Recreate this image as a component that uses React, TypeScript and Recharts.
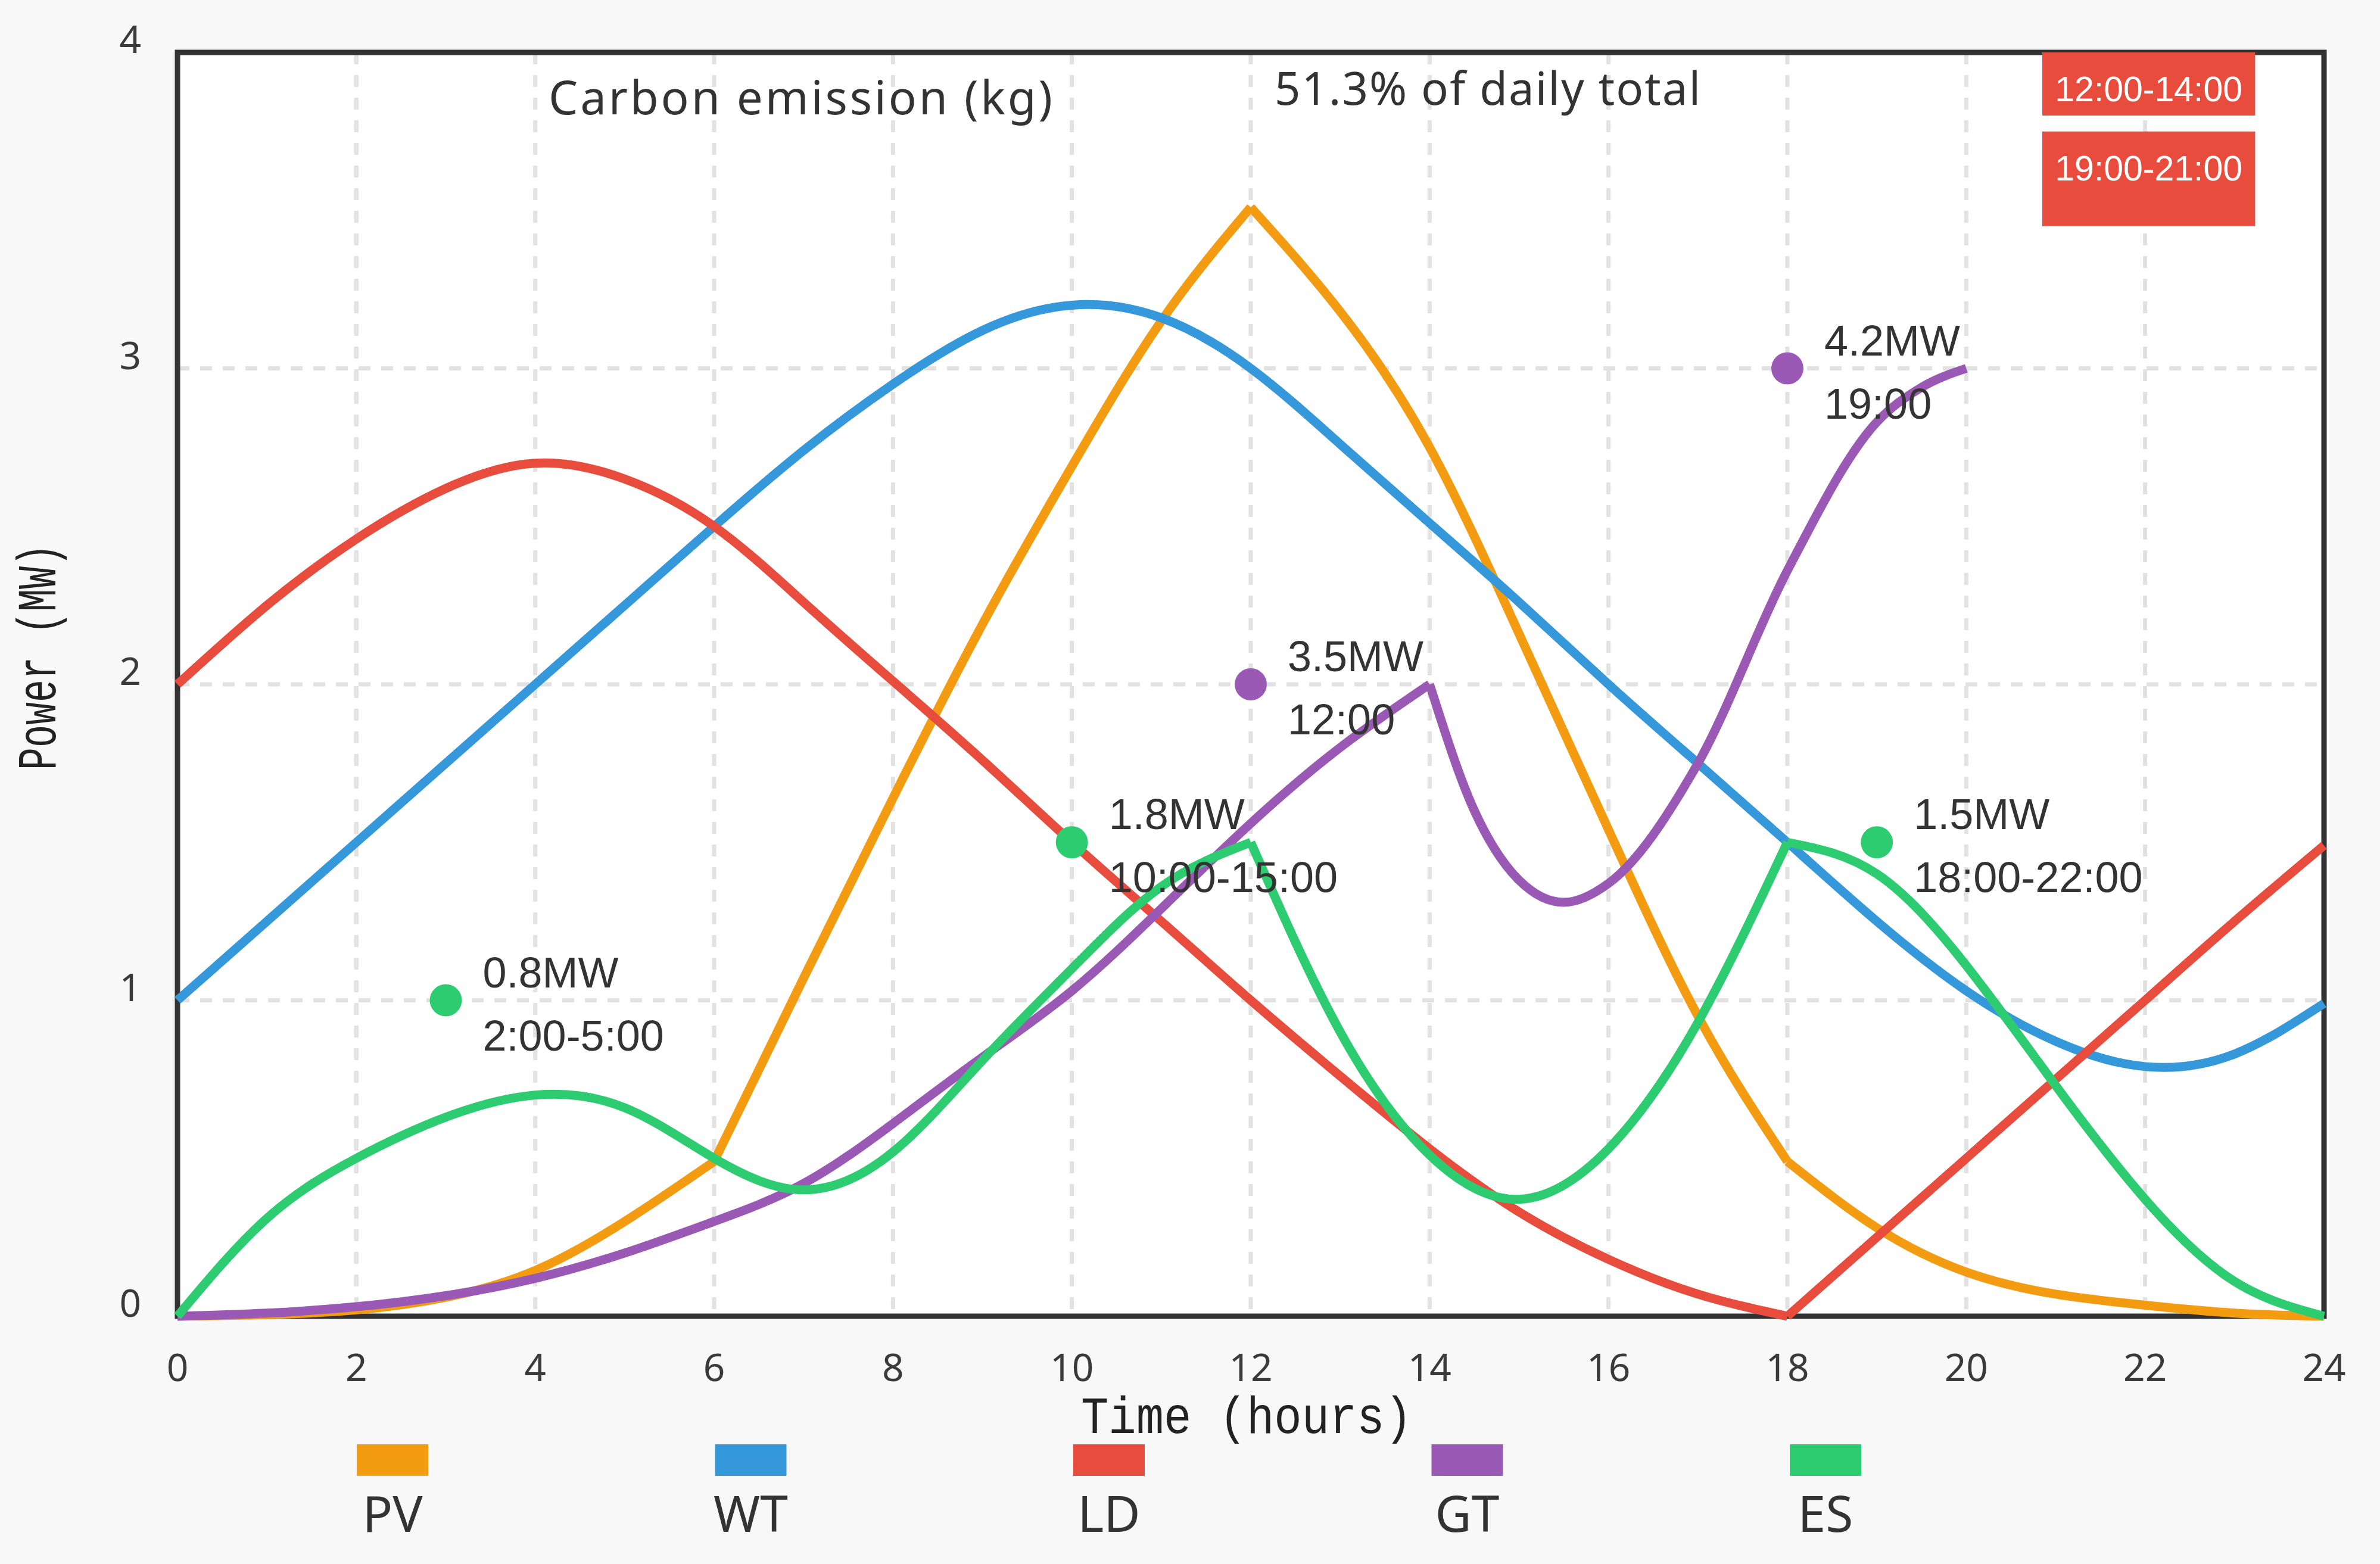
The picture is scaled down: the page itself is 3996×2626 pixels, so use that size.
import React from "react";
import {
  ComposedChart, Line, Scatter, XAxis, YAxis, CartesianGrid,
  ReferenceArea, Legend, Label, Customized,
} from "recharts";

const W = 3996;
const H = 2626;

// hourly readings, MW
const HOURS = [0, 1, 2, 3, 4, 5, 6, 7, 8, 9, 10, 11, 12, 13, 14, 15, 16, 17, 18, 19, 20, 21, 22, 23, 24];
const PV = [0, 0.005, 0.02, 0.06, 0.145, 0.3, 0.49, 1.07, 1.64, 2.19, 2.69, 3.15, 3.51, 3.18, 2.75, 2.16, 1.54, 0.95, 0.49, 0.28, 0.14, 0.07, 0.035, 0.01, 0];
const WT = [1.0, 1.25, 1.5, 1.75, 2.0, 2.25, 2.5, 2.74, 2.95, 3.12, 3.2, 3.16, 3.0, 2.76, 2.51, 2.26, 2.0, 1.75, 1.5, 1.25, 1.03, 0.87, 0.79, 0.83, 0.99];
const LD = [2.0, 2.25, 2.46, 2.62, 2.7, 2.65, 2.5, 2.26, 2.01, 1.76, 1.5, 1.25, 1.0, 0.76, 0.53, 0.33, 0.18, 0.07, 0, 0.25, 0.5, 0.75, 1.0, 1.25, 1.49];
const ES = [0, 0.31, 0.5, 0.63, 0.7, 0.66, 0.5, 0.4, 0.52, 0.81, 1.1, 1.36, 1.5, 0.9, 0.51, 0.37, 0.53, 0.93, 1.5, 1.4, 1.11, 0.73, 0.37, 0.11, 0];
const GT_HOURS = [0, 1, 2, 3, 4, 5, 6, 7, 8, 9, 10, 11, 12, 13, 14, 14.5, 15, 15.5, 16, 17, 18, 19, 19.5, 20];
const GT = [0, 0.01, 0.03, 0.065, 0.12, 0.2, 0.3, 0.42, 0.61, 0.82, 1.03, 1.29, 1.56, 1.8, 2.0, 1.6, 1.38, 1.31, 1.37, 1.75, 2.36, 2.83, 2.94, 3.0];

const X_TICKS = [0, 2, 4, 6, 8, 10, 12, 14, 16, 18, 20, 22, 24];
const Y_TICKS = [0, 1, 2, 3, 4];

// annotated points
const MARK_HOURS = [3, 10, 12, 18, 19];
const MARK_VALUES = [1, 1.5, 2, 3, 1.5];
const MARK_POWER = ["0.8MW", "1.8MW", "3.5MW", "4.2MW", "1.5MW"];
const MARK_TIME = ["2:00-5:00", "10:00-15:00", "12:00", "19:00", "18:00-22:00"];
const MARK_SERIES = ["ES", "ES", "GT", "GT", "ES"];

const BADGE_TEXT = ["12:00-14:00", "19:00-21:00"];

const SERIES = [
  { name: "PV", color: "#F39C12", hours: HOURS, values: PV, corners: [6, 12, 18] },
  { name: "WT", color: "#3498DB", hours: HOURS, values: WT, corners: [] as number[] },
  { name: "LD", color: "#E74C3C", hours: HOURS, values: LD, corners: [18] },
  { name: "GT", color: "#9B59B6", hours: GT_HOURS, values: GT, corners: [14] },
  { name: "ES", color: "#2ECC71", hours: HOURS, values: ES, corners: [12, 18] },
];
const COLOR: Record<string, string> = Object.fromEntries(SERIES.map((s) => [s.name, s.color]));

// a series is split at its sharp corners so the smooth curve keeps the kink
const SEGMENTS = SERIES.flatMap((s) => {
  const bounds = [s.hours[0], ...s.corners, s.hours[s.hours.length - 1]];
  return bounds.slice(1).map((b, i) => {
    const from = bounds[i];
    const hs = s.hours.filter((h) => h >= from && h <= b);
    const even = hs.every((h, j) => j === 0 || h - hs[j - 1] === hs[1] - hs[0]);
    return { key: `${s.name}_${i}`, series: s, from, to: b, curve: even ? "natural" : "monotone" };
  });
});

const ALL_HOURS = Array.from(new Set([...HOURS, ...GT_HOURS])).sort((a, b) => a - b);
const TABLE = ALL_HOURS.map((h) => {
  const row: Record<string, number> = { hour: h };
  SEGMENTS.forEach((seg) => {
    const idx = seg.series.hours.indexOf(h);
    if (idx >= 0 && h >= seg.from && h <= seg.to) row[seg.key] = seg.series.values[idx];
  });
  return row;
});

const MARKS = MARK_HOURS.map((h, i) => ({
  hour: h, v: MARK_VALUES[i], power: MARK_POWER[i], time: MARK_TIME[i], color: COLOR[MARK_SERIES[i]],
}));

const BADGE_BOXES = [
  { x1: 20.85, x2: 23.23, y1: 3.8, y2: 4.0 },
  { x1: 20.85, x2: 23.23, y1: 3.45, y2: 3.75 },
];

const TICK_FONT = "'Noto Sans', sans-serif";
const MONO = "'Liberation Mono', monospace";

function XTick({ x, y, payload }: any) {
  return (
    <text x={x} y={y + 109} textAnchor="middle" fontFamily={TICK_FONT} fontSize={64} fill="#3a3a3a">
      {payload.value}
    </text>
  );
}

function YTick({ x, y, payload }: any) {
  return (
    <text x={x} y={y + 1} textAnchor="end" fontFamily={TICK_FONT} fontSize={64} fill="#3a3a3a">
      {payload.value}
    </text>
  );
}

function XTitle({ viewBox }: any) {
  return (
    <text x={viewBox.x + viewBox.width / 2 - 7} y={viewBox.y + 196} textAnchor="middle"
      fontFamily={MONO} fontSize={88} fill="#222" textLength={556} lengthAdjust="spacingAndGlyphs">
      Time (hours)
    </text>
  );
}

function YTitle({ viewBox }: any) {
  const cx = viewBox.x + 68;
  const cy = viewBox.y + viewBox.height / 2 - 46;
  return (
    <text x={cx} y={cy} transform={`rotate(-90, ${cx}, ${cy})`} textAnchor="middle" dominantBaseline="central"
      fontFamily={MONO} fontSize={92} fill="#222" textLength={380} lengthAdjust="spacingAndGlyphs">
      Power (MW)
    </text>
  );
}

function BadgeText({ viewBox, text }: any) {
  return (
    <text x={viewBox.x + viewBox.width / 2} y={viewBox.y + 82} textAnchor="middle"
      fontFamily="'Liberation Sans', Arial, sans-serif" fontSize={59} fill="#fff">
      {text}
    </text>
  );
}

function MarkShape({ cx, cy, payload }: any) {
  return (
    <g>
      <circle cx={cx} cy={cy} r={27} fill={payload.color} />
      <g fontFamily="'Liberation Sans', Arial, sans-serif" fontSize={72} fill="#333">
        <text x={cx + 62} y={cy - 22}>{payload.power}</text>
        <text x={cx + 62} y={cy + 84}>{payload.time}</text>
      </g>
    </g>
  );
}

function Titles() {
  return (
    <g fontFamily={TICK_FONT} fill="#333">
      <text x={921} y={192} fontSize={78} textLength={846} lengthAdjust="spacing">Carbon emission (kg)</text>
      <text x={2140} y={176} fontSize={76} textLength={715} lengthAdjust="spacing">51.3% of daily total</text>
    </g>
  );
}

function LegendContent() {
  return (
    <svg width={W} height={200} style={{ display: "block" }}>
      {SERIES.map((s, i) => {
        const left = 599 + i * 601.5;
        return (
          <g key={s.name}>
            <rect x={left} y={0} width={120} height={53} fill={s.color} />
            <text x={left + 60} y={147} textAnchor="middle" fontFamily={TICK_FONT} fontSize={84} fill="#333">
              {s.name}
            </text>
          </g>
        );
      })}
    </svg>
  );
}

export default function App() {
  return (
    <div style={{ position: "absolute", left: 0, top: 0, width: W, height: H, background: "#f8f8f8", overflow: "hidden" }}>
      <ComposedChart width={W} height={H} data={TABLE} margin={{ top: 88, right: 94, bottom: 0, left: 0 }}>
        <CartesianGrid stroke="#e2e2e2" strokeWidth={7} strokeDasharray="20 18" fill="#ffffff" />
        <XAxis dataKey="hour" type="number" domain={[0, 24]} ticks={X_TICKS} interval={0}
          height={416} tickLine={false} axisLine={false} tickSize={0} tickMargin={0} tick={XTick}>
          <Label content={XTitle} />
        </XAxis>
        <YAxis type="number" domain={[0, 4]} ticks={Y_TICKS} interval={0}
          width={298} tickLine={false} axisLine={false} tickSize={0} tickMargin={61} tick={YTick}>
          <Label content={YTitle} />
        </YAxis>
        <ReferenceArea x1={0} x2={24} y1={0} y2={4} fill="none" stroke="#333" strokeWidth={9} ifOverflow="visible" />
        {BADGE_BOXES.map((b, i) => (
          <ReferenceArea key={BADGE_TEXT[i]} {...b} fill="#E74C3C" fillOpacity={1} stroke="none"
            ifOverflow="visible" label={<BadgeText text={BADGE_TEXT[i]} />} />
        ))}
        {SEGMENTS.map((seg) => (
          <Line key={seg.key} dataKey={seg.key} type={seg.curve as any} stroke={seg.series.color} strokeWidth={15}
            dot={false} activeDot={false} connectNulls isAnimationActive={false} legendType="none" />
        ))}
        <Scatter data={MARKS} dataKey="v" shape={MarkShape} isAnimationActive={false} legendType="none" />
        <Customized component={Titles} />
        <Legend layout="horizontal" verticalAlign="middle" align="center" content={LegendContent}
          wrapperStyle={{ position: "absolute", left: 0, top: 2425, width: W, height: 200 }} />
      </ComposedChart>
    </div>
  );
}
